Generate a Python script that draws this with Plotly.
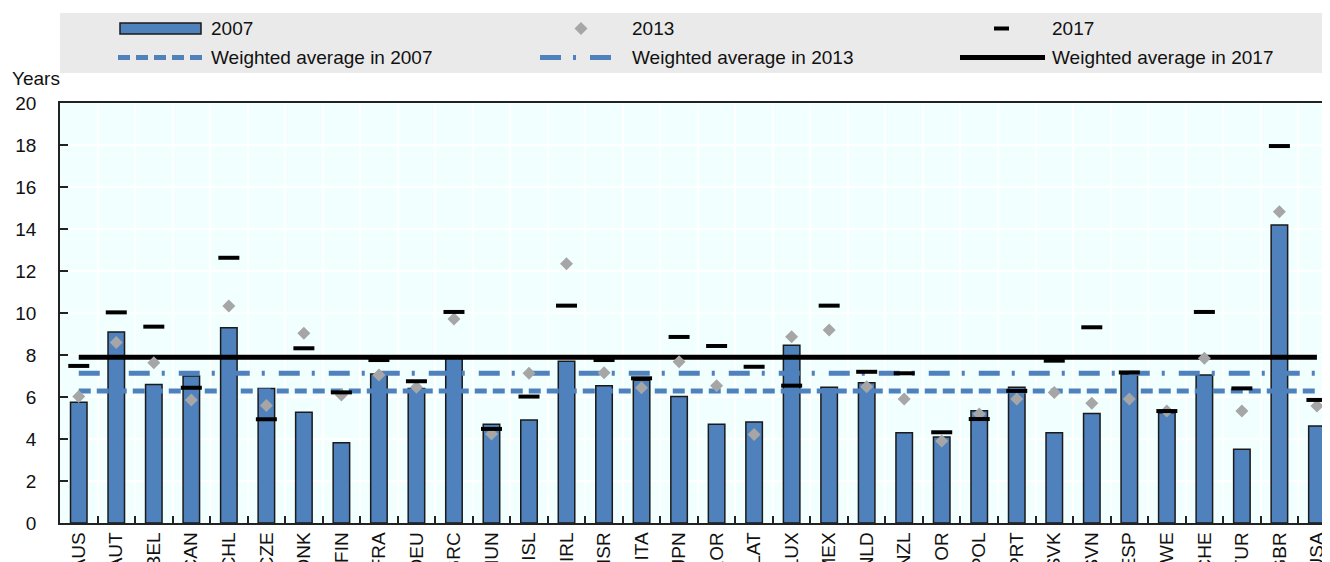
import plotly.graph_objects as go

countries = ["AUS", "AUT", "BEL", "CAN", "CHL", "CZE", "DNK", "FIN", "FRA", "DEU",
             "GRC", "HUN", "ISL", "IRL", "ISR", "ITA", "JPN", "KOR", "LAT", "LUX",
             "MEX", "NLD", "NZL", "NOR", "POL", "PRT", "SVK", "SVN", "ESP", "SWE",
             "CHE", "TUR", "GBR", "USA"]
v2007 = [5.75, 9.1, 6.6, 7.0, 9.3, 6.4, 5.27, 3.82, 7.1, 6.4,
         7.85, 4.7, 4.9, 7.7, 6.54, 6.8, 6.02, 4.7, 4.81, 8.46,
         6.46, 6.68, 4.3, 4.1, 5.35, 6.46, 4.3, 5.22, 7.1, 5.25,
         7.05, 3.51, 14.19, 4.62]
v2013 = [6.02, 8.6, 7.63, 5.86, 10.33, 5.6, 9.03, 6.1, 7.05, 6.46,
         9.71, 4.24, 7.13, 12.35, 7.16, 6.44, 7.68, 6.54, 4.22, 8.87,
         9.19, 6.49, 5.9, 3.9, 5.19, 5.9, 6.22, 5.7, 5.9, 5.33,
         7.84, 5.33, 14.82, 5.57]
v2017 = [7.48, 10.03, 9.35, 6.44, 12.63, 4.94, 8.32, 6.22, 7.76, 6.75,
         10.05, 4.48, 6.02, 10.35, 7.76, 6.89, 8.86, 8.43, 7.44, 6.54,
         10.35, 7.2, 7.13, 4.32, 4.95, 6.29, 7.73, 9.32, 7.17, 5.33,
         10.05, 6.41, 17.95, 5.86]
wavg = {"2007": 6.29, "2013": 7.13, "2017": 7.89}
y_ticks = [0, 2, 4, 6, 8, 10, 12, 14, 16, 18, 20]

# page offset of the plot div (default body margin)
OFF = 8
PAGE_W, PAGE_H = 1330, 562
W, H = PAGE_W - OFF, PAGE_H - OFF
# plot area in page pixels
L, R, T, B = 60, 1330, 103, 523
FONT = "Liberation Sans, Arial, sans-serif"
BLUE = "#4F81BD"
GREY = "#A6A6A6"


def px(xp):
    return (xp - L) / (R - L)


def py(yp):
    return (B - yp) / (B - T)


fig = go.Figure()
fig.add_trace(go.Bar(x=countries, y=v2007, width=0.44, name="2007",
                     marker=dict(color=BLUE, line=dict(color="#1a1a1a", width=1.5))))
fig.add_trace(go.Scatter(x=countries, y=[wavg["2007"]] * len(countries), mode="lines",
                         name="Weighted average in 2007",
                         line=dict(color=BLUE, width=5, dash="12px,6px")))
fig.add_trace(go.Scatter(x=countries, y=[wavg["2013"]] * len(countries), mode="lines",
                         name="Weighted average in 2013",
                         line=dict(color=BLUE, width=5, dash="21px,12px,3px,14px")))
fig.add_trace(go.Scatter(x=countries, y=[wavg["2017"]] * len(countries), mode="lines",
                         name="Weighted average in 2017",
                         line=dict(color="black", width=5)))
fig.add_trace(go.Scatter(x=countries, y=v2013, mode="markers", name="2013",
                         marker=dict(symbol="diamond", size=10, color=GREY, line=dict(width=0))))
fig.add_trace(go.Scatter(x=countries, y=v2017, mode="markers", name="2017",
                         marker=dict(symbol="line-ew", size=15, color="black",
                                     line=dict(color="black", width=4))))

shapes = []
annotations = []
# legend box
shapes.append(dict(type="rect", xref="paper", yref="paper", x0=px(60), x1=px(1327),
                   y0=py(73), y1=py(13), fillcolor="#EAEAEA", line=dict(width=0), layer="below"))
r1, r2 = 28.5, 57.5
# 2007 bar symbol
shapes.append(dict(type="rect", xref="paper", yref="paper", x0=px(120), x1=px(201),
                   y0=py(34), y1=py(23), fillcolor=BLUE, line=dict(color="#1a1a1a", width=1.5)))
# 2013 diamond
cx, cy, rd = 581, r1, 6.5
shapes.append(dict(type="path", xref="paper", yref="paper",
                   path=f"M {px(cx)} {py(cy - rd)} L {px(cx + rd)} {py(cy)} L {px(cx)} {py(cy + rd)} L {px(cx - rd)} {py(cy)} Z",
                   fillcolor=GREY, line=dict(width=0)))
# 2017 dash
shapes.append(dict(type="line", xref="paper", yref="paper", x0=px(994), x1=px(1009),
                   y0=py(r1), y1=py(r1), line=dict(color="black", width=4)))
# weighted averages
shapes.append(dict(type="line", xref="paper", yref="paper", x0=px(118), x1=px(202),
                   y0=py(r2), y1=py(r2), line=dict(color=BLUE, width=5, dash="12px,6px")))
shapes.append(dict(type="line", xref="paper", yref="paper", x0=px(540), x1=px(612),
                   y0=py(r2), y1=py(r2), line=dict(color=BLUE, width=5, dash="21px,12px,3px,14px")))
shapes.append(dict(type="line", xref="paper", yref="paper", x0=px(960), x1=px(1045),
                   y0=py(r2), y1=py(r2), line=dict(color="black", width=5)))

legend_text = [("2007", 209, r1), ("2013", 630, r1), ("2017", 1050, r1),
               ("Weighted average in 2007", 209, r2), ("Weighted average in 2013", 630, r2),
               ("Weighted average in 2017", 1050, r2)]
for txt, xx, yy in legend_text:
    annotations.append(dict(text=txt, xref="paper", yref="paper", x=px(xx), y=py(yy),
                            xanchor="left", yanchor="middle", showarrow=False,
                            font=dict(family=FONT, size=19, color="#111")))
annotations.append(dict(text="Years", xref="paper", yref="paper", x=px(62), y=py(78),
                        xanchor="right", yanchor="middle", showarrow=False,
                        font=dict(family=FONT, size=19, color="#111")))

fig.update_layout(
    width=W, height=H,
    margin=dict(l=L - OFF, r=0, t=T - OFF, b=PAGE_H - B, pad=0, autoexpand=False),
    paper_bgcolor="white", plot_bgcolor="#F2FFFF",
    showlegend=False, bargap=0.5,
    font=dict(family=FONT, size=19, color="#111"),
    shapes=shapes, annotations=annotations,
    xaxis=dict(type="category", range=[-0.5, -0.5 + (R - L) / 37.52], automargin=False,
               tickangle=-90, tickson="boundaries", ticks="inside", ticklen=7,
               tickcolor="#222", tickwidth=1.5,
               showgrid=True, gridcolor="white", gridwidth=1.5,
               showline=True, linecolor="#222", linewidth=1.5, mirror=True,
               tickfont=dict(family=FONT, size=19, color="#111")),
    yaxis=dict(range=[0, 20], tickvals=y_ticks, ticks="inside", ticklen=8, automargin=False,
               tickcolor="#222", tickwidth=1.5,
               showgrid=True, gridcolor="white", gridwidth=1.5, zeroline=False,
               showline=True, linecolor="#222", linewidth=1.5,
               ticklabelstandoff=18,
               tickfont=dict(family=FONT, size=19, color="#111")),
)

fig.write_html("out.html")
